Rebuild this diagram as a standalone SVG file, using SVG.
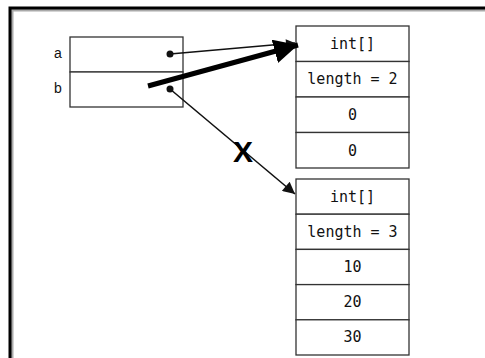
<svg xmlns="http://www.w3.org/2000/svg" width="485" height="358" viewBox="0 0 485 358">
<style>
.box{fill:#fff;stroke:#333;stroke-width:1.3}
.mono{font-family:"DejaVu Sans Mono","Liberation Mono",monospace;font-size:15px;fill:#111;text-anchor:middle}
.lbl{font-family:"Liberation Sans",Arial,sans-serif;font-size:14px;fill:#111}
.thin{stroke:#111;stroke-width:1.6;fill:none}
.dot{fill:#111}
</style>
<defs>
<marker id="ah" viewBox="0 0 10 10" refX="10" refY="5" markerWidth="10" markerHeight="9" markerUnits="userSpaceOnUse" orient="auto"><path d="M0,0 L10,5 L0,10 z" fill="#111"/></marker>
<marker id="ahs" viewBox="0 0 10 10" refX="10" refY="5" markerWidth="14" markerHeight="12" markerUnits="userSpaceOnUse" orient="auto"><path d="M0,0 L10,5 L0,10 z" fill="#111"/></marker>
<marker id="ahb" viewBox="0 0 10 10" refX="10" refY="5" markerWidth="24" markerHeight="24" markerUnits="userSpaceOnUse" orient="auto"><path d="M0,0 L10,5 L0,10 z" fill="#000"/></marker>
</defs>
<rect x="0" y="0" width="485" height="358" fill="#fff"/>
<rect x="12" y="10" width="520" height="400" fill="none" stroke="#aaa" stroke-width="3"/>
<rect x="10" y="8" width="520" height="400" fill="none" stroke="#000" stroke-width="3"/>

<g id="vars">
<rect class="box" x="70" y="37" width="113" height="35"/>
<rect class="box" x="70" y="72" width="113" height="35"/>
<text class="lbl" x="54" y="58">a</text>
<text class="lbl" x="54" y="93">b</text>
</g>

<g id="array1">
<rect class="box" x="296" y="26" width="113" height="35.5"/>
<rect class="box" x="296" y="61.5" width="113" height="35.5"/>
<rect class="box" x="296" y="97" width="113" height="35.5"/>
<rect class="box" x="296" y="132.5" width="113" height="35.5"/>
<text class="mono" x="352.5" y="48.5">int[]</text>
<text class="mono" x="352.5" y="84">length = 2</text>
<text class="mono" x="352.5" y="120">0</text>
<text class="mono" x="352.5" y="155.5">0</text>
</g>

<g id="array2">
<rect class="box" x="296" y="179" width="113" height="35.2"/>
<rect class="box" x="296" y="214.2" width="113" height="35.2"/>
<rect class="box" x="296" y="249.4" width="113" height="35.2"/>
<rect class="box" x="296" y="284.6" width="113" height="35.2"/>
<rect class="box" x="296" y="319.8" width="113" height="35.2"/>
<text class="mono" x="352.5" y="201.5">int[]</text>
<text class="mono" x="352.5" y="236.5">length = 3</text>
<text class="mono" x="352.5" y="271.5">10</text>
<text class="mono" x="352.5" y="307">20</text>
<text class="mono" x="352.5" y="342">30</text>
</g>

<g id="connectors">
<line class="thin" x1="170" y1="54" x2="295" y2="43" marker-end="url(#ah)"/>
<circle class="dot" cx="170" cy="54" r="3.5"/>
<line class="thin" x1="170" y1="89" x2="295" y2="194" marker-end="url(#ahs)"/>
<circle class="dot" cx="170" cy="89" r="3.5"/>
<line x1="148" y1="86" x2="298" y2="45" stroke="#000" stroke-width="5" marker-end="url(#ahb)"/>
</g>

<text id="x" x="243" y="162" font-family="Liberation Sans,Arial,sans-serif" font-weight="bold" font-size="30" text-anchor="middle" fill="#000">X</text>
</svg>
